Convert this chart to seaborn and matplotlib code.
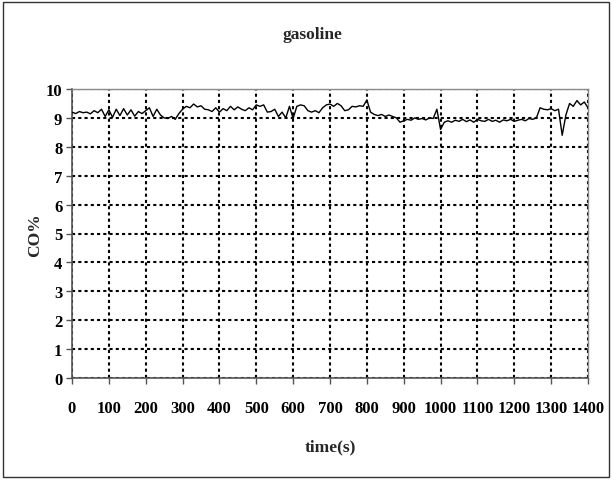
import numpy as np
import pandas as pd
import matplotlib
matplotlib.use("Agg")
import matplotlib.pyplot as plt
from matplotlib.patches import Rectangle
import seaborn as sns

# CO concentration recorded every 10 s while running on gasoline
time_s = list(range(0, 1401, 10))
co_pct = [
    9.20, 9.15, 9.22, 9.18, 9.20, 9.14, 9.25, 9.18, 9.30, 9.05,
    9.28, 9.02, 9.30, 9.08, 9.32, 9.10, 9.28, 9.06, 9.22, 9.15,
    9.25, 9.35, 9.05, 9.30, 9.10, 9.00, 8.98, 9.05, 8.95, 9.15,
    9.30, 9.40, 9.35, 9.48, 9.38, 9.42, 9.30, 9.28, 9.22, 9.35,
    9.20, 9.32, 9.25, 9.40, 9.28, 9.38, 9.30, 9.25, 9.35, 9.28,
    9.45, 9.40, 9.45, 9.20, 9.22, 9.30, 9.05, 9.20, 9.00, 9.40,
    8.98, 9.40, 9.45, 9.42, 9.25, 9.20, 9.25, 9.18, 9.35, 9.45,
    9.48, 9.40, 9.50, 9.42, 9.25, 9.28, 9.40, 9.38, 9.42, 9.40,
    9.62, 9.20, 9.12, 9.08, 9.12, 9.05, 9.10, 9.05, 9.00, 8.85,
    8.90, 8.95, 8.92, 9.00, 8.95, 8.98, 8.93, 9.00, 8.98, 9.30,
    8.60, 8.85, 8.90, 8.85, 8.92, 8.88, 8.95, 8.87, 8.93, 8.85,
    8.95, 8.90, 8.88, 8.95, 8.88, 8.92, 8.85, 8.93, 8.90, 8.95,
    8.88, 8.92, 8.95, 8.90, 8.98, 8.95, 9.00, 9.35, 9.30, 9.28,
    9.32, 9.25, 9.30, 8.40, 9.10, 9.50, 9.40, 9.60, 9.45, 9.55,
    9.35,
]
x_ticks = list(range(0, 1401, 100))
y_ticks = list(range(0, 11, 1))

df = pd.DataFrame({"time(s)": time_s, "CO%": co_pct})

sns.set_theme(style="white")
plt.rcParams["font.family"] = ["Liberation Serif", "DejaVu Serif"]
plt.rcParams["font.weight"] = "bold"

fig = plt.figure(figsize=(6.12, 4.81), dpi=100)
ax = fig.add_axes([72 / 612, 1 - 379 / 481, 516 / 612, 289 / 481])

sns.lineplot(data=df, x="time(s)", y="CO%", ax=ax, color="black",
             linewidth=1.0, zorder=3)

ax.set_xlim(0, 1400)
ax.set_ylim(0, 10)
ax.set_xticks(x_ticks)
ax.set_yticks(y_ticks)
ax.set_xticklabels([str(v) for v in x_ticks])
ax.set_yticklabels([str(v) for v in y_ticks])

ax.grid(True, color="black", linestyle=(0, (1.5, 1.5)), linewidth=1.5,
        zorder=1)
ax.set_axisbelow(True)

for side in ("top", "right"):
    ax.spines[side].set_color("#8a8a8a")
    ax.spines[side].set_linewidth(1.0)
for side in ("left", "bottom"):
    ax.spines[side].set_color("#555555")
    ax.spines[side].set_linewidth(1.2)

ax.tick_params(axis="both", direction="out", length=4, width=1,
               color="#555555", labelsize=12, labelcolor="black")
ax.tick_params(axis="x", pad=12, bottom=True)
ax.tick_params(axis="y", pad=3, left=True)
for lbl in ax.get_xticklabels() + ax.get_yticklabels():
    lbl.set_fontweight("bold")

ax.set_xlabel("")
ax.set_ylabel("")
fig.text(0.51, 1 - 35 / 481, "gasoline", ha="center", va="center",
         fontsize=12.5, fontweight="bold")
fig.text(330 / 612, 1 - 447 / 481, "time(s)", ha="center", va="center",
         fontsize=12.5, fontweight="bold")
fig.text(35 / 612, 1 - 235 / 481, "CO%", ha="center", va="center",
         rotation=90, fontsize=12.5, fontweight="bold")

# chart-area frame
fig.patches.append(Rectangle((3 / 612, 3 / 481), 606 / 612, 475 / 481,
                             transform=fig.transFigure, fill=False,
                             edgecolor="#333333", linewidth=1.0))

fig.savefig("out.png", dpi=100, facecolor="white")
